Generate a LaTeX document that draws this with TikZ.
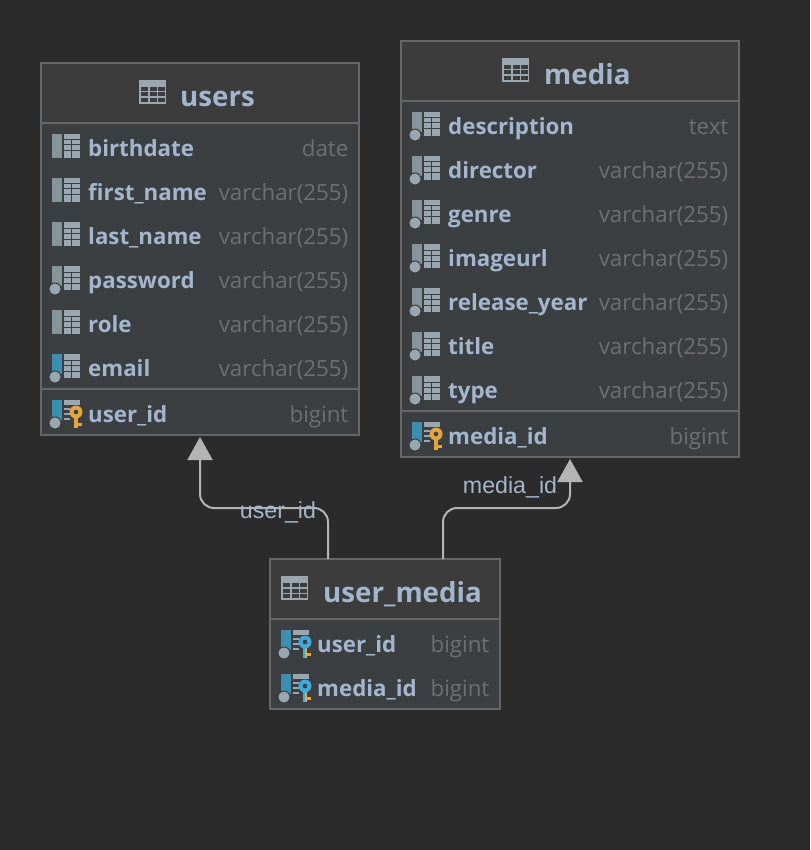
\documentclass[tikz,border=0pt]{standalone}
\usepackage{fontspec}
\setmainfont{Open Sans}
\newfontfamily\linkfont{Liberation Sans}
\usetikzlibrary{positioning,arrows.meta}
\definecolor{canvasbg}{HTML}{2B2B2B}
\definecolor{framecol}{HTML}{666666}
\definecolor{headbg}{HTML}{3C3C3C}
\definecolor{rowbg}{HTML}{3B3F42}
\definecolor{namecol}{HTML}{A4B6CE}
\definecolor{typecol}{HTML}{6F6F6F}
\definecolor{icongrey}{HTML}{9AA7B0}
\definecolor{bargrey}{HTML}{85939B}
\definecolor{barblue}{HTML}{3C8FB0}
\definecolor{keyorange}{HTML}{E3A53C}
\definecolor{keyblue}{HTML}{3FA9DC}
\definecolor{linkcol}{HTML}{B4B4B4}
\tikzset{
  tablebox/.style={draw=framecol,line width=1.5pt,fill=rowbg,inner sep=0pt,outer sep=0pt},
  headbox/.style={fill=headbg,inner sep=0pt,outer sep=0pt,anchor=north},
  sepline/.style={draw=framecol,line width=2pt},
  title/.style={font=\fontsize{27.7}{27.7}\selectfont\bfseries,text=namecol,anchor=base west,inner sep=0pt},
  colname/.style={font=\fontsize{22.3}{22.3}\selectfont\bfseries,text=namecol,anchor=base west,inner sep=0pt},
  coltype/.style={font=\fontsize{22.3}{22.3}\selectfont,text=typecol,anchor=base east,inner sep=0pt},
  fklabel/.style={font=\linkfont\fontsize{23.2}{23.2}\selectfont,text=namecol,inner sep=0pt},
  fk/.style={draw=linkcol,line width=2pt,rounded corners=14pt,shorten >=2pt,
    -{Triangle[length=23pt,width=25pt,fill=linkcol]}},
  tableicon/.pic={
    \fill[icongrey] (0,0) rectangle (27,24);
    \foreach \u in {2,11,19}
      \foreach \v in {7,12.5,18}
        \fill[headbg] (\u,\v) rectangle (\u+6.5,\v+4);
  },
  gridpart/.pic={
    \fill[icongrey] (12,-14) rectangle (28,10);
    \foreach \v in {-8,-3,3} \draw[rowbg,line width=1pt] (12,\v) -- (28,\v);
    \draw[rowbg,line width=1pt] (19.5,-8) -- (19.5,10);
  },
  pkgrid/.pic={
    \fill[icongrey] (12,-14) rectangle (28,-9);
    \foreach \v in {-6,-1,4} \fill[icongrey] (12,\v) rectangle (18,\v+1.8);
  },
  nndot/.pic={
    \fill[icongrey,draw=rowbg,line width=1pt] (3,9) circle[radius=6pt];
  },
  plaincol/.pic={
    \fill[bargrey] (0,-14) rectangle (10,10);
    \pic {gridpart};
  },
  nncol/.pic={
    \fill[bargrey] (0,-14) rectangle (10,6);
    \pic {nndot};
    \pic {gridpart};
  },
  fknncol/.pic={
    \fill[barblue] (0,-14) rectangle (10,6);
    \pic {nndot};
    \pic {gridpart};
  },
  keybase/.pic={
    \fill[barblue] (0,-14) rectangle (10,6);
    \pic {nndot};
    \pic {pkgrid};
  },
  pkcol/.pic={
    \pic {keybase};
    \fill[keyorange] (21.8,-3) rectangle (26.2,14);
    \fill[keyorange] (26,8.5) rectangle (30,11.5);
    \fill[keyorange] (24,-2) circle[radius=6.5pt];
    \fill[rowbg] (24,-2) circle[radius=2.3pt];
  },
  pkfkcol/.pic={
    \pic {keybase};
    \fill[keyblue] (21.8,-3) rectangle (24,14);
    \fill[keyorange] (24,-3) rectangle (26.2,14);
    \fill[keyorange] (26,8.5) rectangle (30,11.5);
    \fill[keyblue] (24,-2) circle[radius=6.5pt];
    \fill[rowbg] (24,-2) circle[radius=2.3pt];
  }
}
\begin{document}
\begin{tikzpicture}[x=1pt,y=-1pt]
  \useasboundingbox[fill=canvasbg] (0,0) rectangle (810,850);

  \node[tablebox,minimum width=318pt,minimum height=372pt] (users) at (200,249) {};
  \node[tablebox,minimum width=338pt,minimum height=416pt] (media) at (570,249) {};
  \node[tablebox,minimum width=230pt,minimum height=150pt] (um) at (385,634) {};

  \node[headbox,minimum width=316.5pt,minimum height=59pt] (usershead) at ([yshift=-.75pt]users.north) {};
  \node[headbox,minimum width=336.5pt,minimum height=59pt] (mediahead) at ([yshift=-.75pt]media.north) {};
  \node[headbox,minimum width=228.5pt,minimum height=59pt] (umhead) at ([yshift=-.75pt]um.north) {};
  \draw[sepline] (41,123) -- (359,123);
  \draw[sepline] (401,101) -- (739,101);
  \draw[sepline] (270,619) -- (500,619);
  \draw[sepline] (41,389) -- (359,389);
  \draw[sepline] (401,411) -- (739,411);
  \draw[framecol,line width=1.5pt] (users.north west) rectangle (users.south east);
  \draw[framecol,line width=1.5pt] (media.north west) rectangle (media.south east);
  \draw[framecol,line width=1.5pt] (um.north west) rectangle (um.south east);

  \pic at (139,80) {tableicon};
  \pic at (502,58) {tableicon};
  \pic at (281,576) {tableicon};
  \node[title] (userstitle) at (180,106.5) {users};
  \node[title] (mediatitle) at (544,84.5) {media};
  \node[title] (umtitle) at (323,602.5) {user\_media};

  \foreach \y/\nm/\ty/\ic in {148/birthdate/date/plaincol,192/first\_name/varchar(255)/plaincol,
      236/last\_name/varchar(255)/plaincol,280/password/varchar(255)/nncol,
      324/role/varchar(255)/plaincol,368/email/varchar(255)/fknncol,414/user\_id/bigint/pkcol}{
    \pic at (52,\y) {\ic};
    \node[colname] at (88,\y+8.3) {\nm};
    \node[coltype] at (348.5,\y+8.3) {\ty};
  }
  \foreach \y/\nm/\ty/\ic in {126/description/text/nncol,170/director/varchar(255)/nncol,
      214/genre/varchar(255)/nncol,258/imageurl/varchar(255)/nncol,302/release\_year/varchar(255)/nncol,
      346/title/varchar(255)/nncol,390/type/varchar(255)/nncol,436/media\_id/bigint/pkcol}{
    \pic at (412,\y) {\ic};
    \node[colname] at (448,\y+8.3) {\nm};
    \node[coltype] at (728.5,\y+8.3) {\ty};
  }
  \foreach \y/\nm in {644/user\_id,688/media\_id}{
    \pic at (281,\y) {pkfkcol};
    \node[colname] at (317,\y+8.3) {\nm};
    \node[coltype] at (489.5,\y+8.3) {bigint};
  }

  \draw[fk] ([xshift=-57pt]um.north) -- ++(0,-51) -| (users.south);
  \draw[fk] ([xshift=58pt]um.north) -- ++(0,-51) -| (media.south);
  \node[fklabel] (userlink) at (278,512) {user\_id};
  \node[fklabel] (medialink) at (510,487) {media\_id};
\end{tikzpicture}
\end{document}
